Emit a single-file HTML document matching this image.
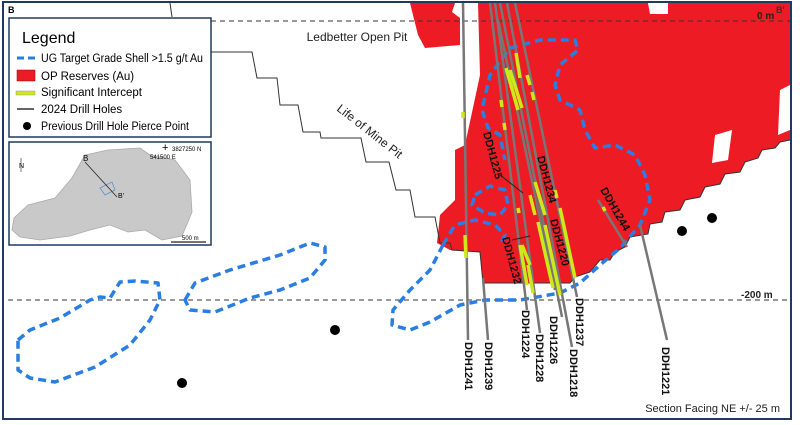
<!DOCTYPE html>
<html><head><meta charset="utf-8"><style>
body{margin:0;background:#fff}
svg{display:block;font-family:"Liberation Sans",sans-serif}
</style></head><body>
<svg width="800" height="425" viewBox="0 0 800 425">
<rect x="0" y="0" width="800" height="425" fill="#fff"/>
<path d="M410,3 L455,3 L452,12 L460,18 L460,45 L425,48 L418,35 Z" fill="#ed1c24"/>
<path d="M478,3 L648,3 L650,14 L668,14 L668,3 L790,3 L790,140 L780,142 L775,148 L762,150 L758,158 L745,162 L740,172 L725,174 L720,184 L705,187 L700,197 L685,200 L680,210 L665,212 L662,222 L650,224 L648,234 L630,237 L625,247 L615,252 L610,260 L600,260 L590,272 L575,277 L570,283 L483,283 L480,252 L450,250 L437,243 L440,215 L455,200 L455,150 L465,145 L480,75 Z" fill="#ed1c24"/>
<path d="M715,135 L732,130 L728,160 L712,163 Z" fill="#fff"/>
<path d="M780,90 L790,85 L790,130 L778,135 Z" fill="#fff"/>
<polyline points="170,3 172,17" fill="none" stroke="#333" stroke-width="1"/>
<polyline points="211,52 252,52 257,78 277,78 280,105 298,105 303,132 320,132 321,138 361,138 366,162 389,162 396,190 410,190 415,217 435,217 440,243 450,243 452,250 480,252 483,283 570,283 575,277 590,272 600,260 610,260 615,252 625,247 630,237 648,234 650,224 662,222 665,212 680,210 685,200 700,197 705,187 720,184 725,174 740,172 745,162 758,158 762,150 775,148 780,142 790,140" fill="none" stroke="#333" stroke-width="1"/>
<line x1="211" y1="21" x2="790" y2="21" stroke="#333" stroke-width="1" stroke-dasharray="5,4"/>
<line x1="8" y1="300" x2="790" y2="300" stroke="#333" stroke-width="1" stroke-dasharray="5,4"/>
<g fill="none" stroke="#2a7de1" stroke-width="3.5" stroke-dasharray="8,5" stroke-linejoin="round">
<path d="M18,340 L30,330 L60,318 L90,300 L100,297 L110,298 L120,282 L135,281 L158,283 L160,300 L150,320 L130,345 L95,367 L55,382 L30,378 L18,370 Z"/>
<path d="M185,300 L195,283 L230,270 L280,255 L310,243 L325,247 L325,260 L310,278 L280,290 L250,298 L215,312 L190,310 Z"/>
<path d="M443,245 L430,270 L410,290 L393,310 L392,325 L410,330 L430,322 L460,305 L485,300 L520,300 L560,293 L580,283 L600,265 L620,248 L640,225 L650,200 L645,175 L635,155 L615,145 L595,148 L585,130 L580,110 L560,100 L555,85 L560,65 L578,50 L575,40 L540,40 L510,48 L490,75 L482,110 L488,128 L500,135 L505,160"/>
<path d="M475,195 L490,186 L505,190 L508,205 L500,215 L485,213 L472,205 Z"/>
<path d="M443,245 L455,225 L475,220 L495,225 L505,235 L500,245"/>
</g>
<g stroke="#777" stroke-width="2.5" fill="none">
<line x1="463" y1="3" x2="468" y2="340"/>
<line x1="483" y1="278" x2="488" y2="340"/>
<line x1="490" y1="3" x2="527" y2="310"/>
<line x1="495" y1="3" x2="540" y2="333"/>
<line x1="500" y1="3" x2="562" y2="317"/>
<line x1="507" y1="3" x2="572" y2="347"/>
<line x1="515" y1="3" x2="577" y2="297"/>
<line x1="498" y1="20" x2="555" y2="290"/>
<line x1="640" y1="225" x2="667" y2="340"/>
<line x1="598" y1="200" x2="627" y2="247"/>
</g>
<line x1="500" y1="175" x2="523" y2="193" stroke="#222" stroke-width="1"/>
<line x1="512" y1="240" x2="530" y2="236" stroke="#222" stroke-width="1"/>
<g stroke="#cfe81a" stroke-width="3.5" stroke-linecap="butt">
<line x1="463" y1="112" x2="463" y2="118"/>
<line x1="465" y1="235" x2="466" y2="258"/>
<line x1="506" y1="68" x2="518" y2="110"/>
<line x1="510" y1="70" x2="522" y2="108"/>
<line x1="516" y1="53" x2="520" y2="78"/>
<line x1="527" y1="75" x2="530" y2="85"/>
<line x1="501" y1="100" x2="502" y2="107"/>
<line x1="504" y1="123" x2="505" y2="130"/>
<line x1="535" y1="182" x2="545" y2="215"/>
<line x1="530" y1="195" x2="535" y2="215"/>
<line x1="545" y1="225" x2="560" y2="295"/>
<line x1="538" y1="222" x2="553" y2="288"/>
<line x1="522" y1="245" x2="530" y2="265"/>
<line x1="520" y1="245" x2="527" y2="285"/>
<line x1="528" y1="265" x2="533" y2="293"/>
<line x1="560" y1="208" x2="575" y2="278"/>
<line x1="555" y1="190" x2="557" y2="198"/>
<line x1="532" y1="92" x2="534" y2="100"/>
<line x1="603" y1="207" x2="605" y2="211"/>
<line x1="518" y1="208" x2="519" y2="213"/>
</g>
<g fill="#000"><circle cx="182" cy="383" r="5"/><circle cx="335" cy="330" r="5"/><circle cx="682" cy="231" r="5"/><circle cx="712" cy="218" r="5"/></g>
<g font-size="11" font-weight="bold" fill="#111" font-family="Liberation Sans Narrow,Liberation Sans,sans-serif">
<text transform="translate(465,342) rotate(90)">DDH1241</text>
<text transform="translate(485,342) rotate(90)">DDH1239</text>
<text transform="translate(522,310) rotate(90)">DDH1224</text>
<text transform="translate(536,334) rotate(90)">DDH1228</text>
<text transform="translate(550,316) rotate(90)">DDH1226</text>
<text transform="translate(570,349) rotate(90)">DDH1218</text>
<text transform="translate(576,298) rotate(90)">DDH1237</text>
<text transform="translate(662,347) rotate(90)">DDH1221</text>
<text transform="translate(483,133) rotate(75)">DDH1225</text>
<text transform="translate(537,157) rotate(75)">DDH1234</text>
<text transform="translate(550,220) rotate(75)">DDH1220</text>
<text transform="translate(502,238) rotate(75)">DDH1232</text>
<text transform="translate(600,190) rotate(60)">DDH1244</text>
</g>
<text x="357" y="41" font-size="12" text-anchor="middle" fill="#222">Ledbetter Open Pit</text>
<text transform="translate(336,110) rotate(38)" font-size="12" fill="#222">Life of Mine Pit</text>
<text x="757" y="19" font-size="10" font-weight="bold" fill="#222">0 m</text>
<text x="741" y="298" font-size="10" font-weight="bold" fill="#222">-200 m</text>
<text x="8" y="13" font-size="9" font-weight="bold">B</text>
<text x="776" y="13" font-size="9" font-weight="bold" fill="#333">B'</text>
<text x="780" y="412" font-size="11" text-anchor="end" fill="#222">Section Facing NE +/- 25 m</text>
<rect x="9" y="18" width="202" height="119" fill="#fff" stroke="#1f3a5f" stroke-width="1.5"/>
<text x="22" y="43" font-size="16">Legend</text>
<line x1="17" y1="58" x2="36" y2="58" stroke="#2a7de1" stroke-width="3" stroke-dasharray="7,4"/>
<text x="41" y="62" font-size="11.5" textLength="162" lengthAdjust="spacingAndGlyphs">UG Target Grade Shell &gt;1.5 g/t Au</text>
<rect x="17" y="70" width="18" height="11" fill="#ed1c24" stroke="#900" stroke-width="0.5"/>
<text x="41" y="80" font-size="11.5">OP Reserves (Au)</text>
<rect x="16" y="91" width="19" height="4" fill="#cfe81a" stroke="#999" stroke-width="0.5"/>
<text x="41" y="96" font-size="11.5">Significant Intercept</text>
<line x1="17" y1="109" x2="34" y2="109" stroke="#666" stroke-width="2"/>
<text x="41" y="113" font-size="11.5">2024 Drill Holes</text>
<circle cx="27" cy="126" r="4" fill="#000"/>
<text x="41" y="130" font-size="11.5" textLength="148" lengthAdjust="spacingAndGlyphs">Previous Drill Hole Pierce Point</text>
<rect x="9" y="142" width="202" height="103" fill="#fff" stroke="#1f3a5f" stroke-width="1.5"/>
<path d="M85,155 L108,150 L140,148 L150,155 L175,160 L190,180 L192,212 L182,236 L162,240 L145,230 L128,232 L110,225 L90,230 L70,236 L40,240 L20,237 L12,230 L14,218 L28,205 L55,198 L72,178 Z" fill="#c9c9c9" stroke="#aaa" stroke-width="0.8"/>
<path d="M100,188 L112,182 L115,190 L105,195 Z" fill="none" stroke="#5b8fd0" stroke-width="0.8"/>
<line x1="85" y1="162" x2="117" y2="197" stroke="#222" stroke-width="0.8"/>
<text x="83" y="161" font-size="8">B</text>
<text x="118" y="198" font-size="7">B'</text>
<text x="162" y="151" font-size="11">+</text>
<text x="172" y="151" font-size="6">3827250 N</text>
<text x="150" y="159" font-size="6">541500 E</text>
<text x="19" y="168" font-size="7">N</text>
<line x1="21" y1="158" x2="21" y2="172" stroke="#222" stroke-width="0.6"/>
<text x="182" y="240" font-size="6">500 m</text>
<line x1="171" y1="242" x2="206" y2="242" stroke="#222" stroke-width="1.2"/>
<rect x="3" y="2" width="788" height="417" fill="none" stroke="#1f3a5f" stroke-width="2"/>
</svg>
</body></html>
